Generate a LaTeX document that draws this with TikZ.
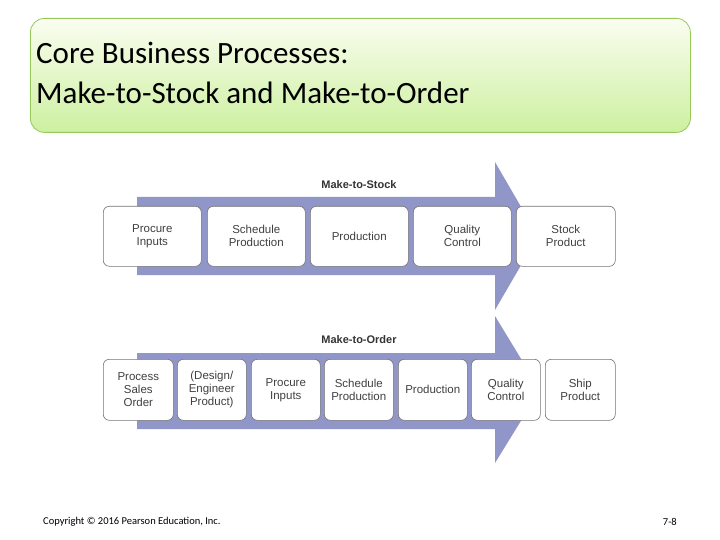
\documentclass[tikz,border=0pt]{standalone}
\usepackage{fontspec}
\setmainfont{Carlito}
\newfontfamily\arialf{Liberation Sans}
\begin{document}
\begin{tikzpicture}[x=1pt,y=-1pt,
  pbox/.style={draw=black!55,line width=0.6pt,fill=white,rounded corners=6pt,align=center,
    font=\arialf\fontsize{11.5}{13}\selectfont,text=black!75,inner sep=0pt},
  arr/.style={fill={rgb,255:red,145;green,150;blue,200},draw=none},
  lab/.style={font=\arialf\bfseries\fontsize{11}{12}\selectfont,text=black!80}]
\useasboundingbox (0,0) rectangle (720,540);
\node[draw={rgb,255:red,150;green,200;blue,90},line width=0.8pt,rounded corners=14pt,
  top color={rgb,255:red,250;green,253;blue,240},bottom color={rgb,255:red,205;green,240;blue,160},
  minimum width=660,minimum height=114,anchor=north west] (title) at (30,18) {};
\node[anchor=north west,align=left,font=\fontsize{31}{40}\selectfont,inner sep=0pt] (tt) at (36,42)
  {Core Business Processes:\\Make-to-Stock and Make-to-Order};
% top arrow
\fill[arr] (137,197) -- (495,197) -- (495,162) -- (538,236) -- (495,310) -- (495,275) -- (137,275) -- cycle;
\node[lab] (ms) at (359,185) {Make-to-Stock};
\foreach \n/\a/\b/\t in {a1/103/201/{Procure\\Inputs},a2/207/305/{Schedule\\Production},a3/310/408/{Production},a4/413/511/{Quality\\Control},a5/516/615/{Stock\\Product}}{
  \node[pbox,minimum width={\b-\a},minimum height=60,anchor=north west] (\n) at (\a,206) {\t};}
% bottom arrow
\fill[arr] (137,353) -- (495,353) -- (495,316) -- (540,390) -- (495,463) -- (495,429) -- (137,429) -- cycle;
\node[lab] (mo) at (359,340) {Make-to-Order};
\foreach \n/\a/\b/\t in {b1/103/173/{Process\\Sales\\Order},b2/177/246/{(Design/\\Engineer\\Product)},b3/251/320/{Procure\\Inputs},b4/324/393/{Schedule\\Production},b5/398/467/{Production},b6/471/540/{Quality\\Control},b7/545/615/{Ship\\Product}}{
  \node[pbox,minimum width={\b-\a},minimum height=61,anchor=north west] (\n) at (\a,359) {\t};}
\node[anchor=west,font=\fontsize{10.5}{12}\selectfont,inner sep=0pt] (cp) at (43,522) {Copyright © 2016 Pearson Education, Inc.};
\node[anchor=east,font=\fontsize{10.5}{12}\selectfont,inner sep=0pt] (pg) at (677,522) {7-8};
\end{tikzpicture}
\end{document}
